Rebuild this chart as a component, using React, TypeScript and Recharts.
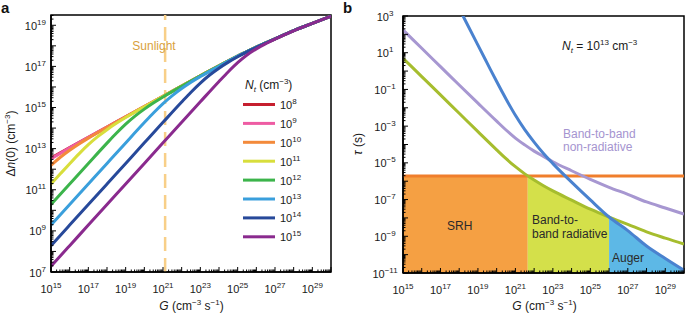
import React from "react";
import {
  ComposedChart,
  Line,
  Area,
  XAxis,
  YAxis,
  ReferenceLine,
  ReferenceArea,
  Legend,
} from "recharts";

const FONT = '"Liberation Sans", Arial, Helvetica, sans-serif';

// ---------- panel a: Δn(0) vs G, one curve per trap density N_t ----------
const ntExponents = [8, 9, 10, 11, 12, 13, 14, 15];
const ntColors = ["#c61f2f", "#ee5ca3", "#f38a3b", "#d8de3c", "#3cb44b", "#3a9fdc", "#27499a", "#8a2a8e"];

const gNt8 = [1e15, 1e16, 1e17, 1e18, 1e19, 1e20, 1e21, 1e22, 1e23, 1e24, 1e25, 3.16e25, 1e26, 3.16e26, 1e27, 3.16e27, 1e28, 1e29, 1e30];
const nNt8 = [3.51e12, 1.12e13, 3.55e13, 1.12e14, 3.55e14, 1.12e15, 3.55e15, 1.12e16, 3.47e16, 1.07e17, 3.16e17, 5.25e17, 8.71e17, 1.38e18, 2.19e18, 3.47e18, 5.5e18, 1.23e19, 2.75e19];

const gNt9 = [1e15, 1e16, 1e17, 1e18, 1e19, 1e20, 1e21, 1e22, 1e23, 1e24, 1e25, 3.16e25, 1e26, 3.16e26, 1e27, 3.16e27, 1e28, 1e29, 1e30];
const nNt9 = [3.24e12, 1.09e13, 3.52e13, 1.12e14, 3.55e14, 1.12e15, 3.55e15, 1.12e16, 3.47e16, 1.07e17, 3.16e17, 5.25e17, 8.71e17, 1.38e18, 2.19e18, 3.47e18, 5.5e18, 1.23e19, 2.75e19];

const gNt10 = [1e15, 3.16e15, 1e16, 3.16e16, 1e17, 1e18, 1e19, 1e20, 1e21, 1e22, 1e23, 1e24, 1e25, 3.16e25, 1e26, 3.16e26, 1e27, 3.16e27, 1e28, 1e29, 1e30];
const nNt10 = [1.55e12, 3.81e12, 8.36e12, 1.7e13, 3.24e13, 1.09e14, 3.52e14, 1.12e15, 3.55e15, 1.12e16, 3.47e16, 1.07e17, 3.16e17, 5.25e17, 8.71e17, 1.38e18, 2.19e18, 3.47e18, 5.5e18, 1.23e19, 2.75e19];

const gNt11 = [1e15, 3.16e15, 1e16, 3.16e16, 1e17, 3.16e17, 1e18, 3.16e18, 1e19, 1e20, 1e21, 1e22, 1e23, 1e24, 1e25, 3.16e25, 1e26, 3.16e26, 1e27, 3.16e27, 1e28, 1e29, 1e30];
const nNt11 = [1.9e11, 5.96e11, 1.85e12, 5.56e12, 1.55e13, 3.81e13, 8.36e13, 1.7e14, 3.24e14, 1.09e15, 3.52e15, 1.12e16, 3.47e16, 1.07e17, 3.16e17, 5.25e17, 8.71e17, 1.38e18, 2.19e18, 3.47e18, 5.5e18, 1.23e19, 2.75e19];

const gNt12 = [1e15, 1e16, 1e17, 1e18, 3.16e18, 1e19, 3.16e19, 1e20, 3.16e20, 1e21, 1e22, 1e23, 1e24, 1e25, 3.16e25, 1e26, 3.16e26, 1e27, 3.16e27, 1e28, 1e29, 1e30];
const nNt12 = [1.91e10, 1.91e11, 1.9e12, 1.85e13, 5.56e13, 1.55e14, 3.81e14, 8.36e14, 1.7e15, 3.24e15, 1.09e16, 3.5e16, 1.07e17, 3.16e17, 5.25e17, 8.71e17, 1.38e18, 2.19e18, 3.47e18, 5.5e18, 1.23e19, 2.75e19];

const gNt13 = [1e15, 1e16, 1e17, 1e18, 1e19, 1e20, 3.16e20, 1e21, 3.16e21, 1e22, 3.16e22, 1e23, 1e24, 1e25, 3.16e25, 1e26, 3.16e26, 1e27, 3.16e27, 1e28, 1e29, 1e30];
const nNt13 = [1.91e9, 1.91e10, 1.91e11, 1.91e12, 1.9e13, 1.85e14, 5.56e14, 1.55e15, 3.81e15, 8.36e15, 1.7e16, 3.2e16, 1.02e17, 3.13e17, 5.2e17, 8.71e17, 1.38e18, 2.19e18, 3.47e18, 5.5e18, 1.23e19, 2.75e19];

const gNt14 = [1e15, 1e16, 1e17, 1e18, 1e19, 1e20, 1e21, 1e22, 3.16e22, 1e23, 3.16e23, 1e24, 3.16e24, 1e25, 3.16e25, 1e26, 3.16e26, 1e27, 3.16e27, 1e28, 1e29, 1e30];
const nNt14 = [1.91e8, 1.91e9, 1.91e10, 1.91e11, 1.91e12, 1.91e13, 1.9e14, 1.85e15, 5.56e15, 1.54e16, 3.8e16, 8.22e16, 1.61e17, 2.94e17, 5.1e17, 8.47e17, 1.35e18, 2.16e18, 3.47e18, 5.5e18, 1.23e19, 2.75e19];

const gNt15 = [1e15, 1e16, 1e17, 1e18, 1e19, 1e20, 1e21, 1e22, 1e23, 1e24, 3.16e24, 1e25, 3.16e25, 1e26, 3.16e26, 1e27, 3.16e27, 1e28, 1e29, 1e30];
const nNt15 = [1.91e7, 1.91e8, 1.91e9, 1.91e10, 1.91e11, 1.91e12, 1.91e13, 1.91e14, 1.9e15, 1.85e16, 5.51e16, 1.51e17, 3.56e17, 7.11e17, 1.26e18, 2.11e18, 3.4e18, 5.37e18, 1.23e19, 2.75e19];

const sunlightG = 1.3e21;

// ---------- panel b: lifetimes for N_t = 1e13 ----------
const gTau = [1e15, 1e16, 1e17, 1e18, 1e19, 1e20, 3.16e20, 1e21, 3.16e21, 1e22, 3.16e22, 1e23, 1e24, 1e25, 1e26, 1e27, 1e28, 1e29, 1e30];
const tauRad = [5.01, 0.501, 5.01e-2, 5.01e-3, 5.01e-4, 5.13e-5, 1.7e-5, 6.17e-6, 2.51e-6, 1.15e-6, 5.62e-7, 2.95e-7, 9.33e-8, 3.02e-8, 1.12e-8, 4.47e-9, 1.74e-9, 7.94e-10, 3.8e-10];
const tauNonRad = [174, 17.4, 1.74, 0.174, 1.78e-2, 1.86e-3, 6.17e-4, 2.24e-4, 9.55e-5, 4.37e-5, 2.24e-5, 1.15e-5, 3.72e-6, 1.26e-6, 4.68e-7, 1.91e-7, 7.41e-8, 3.47e-8, 1.62e-8];

const gAuger = [1e17, 1e18, 1e19, 3.16e19, 1e20, 3.16e20, 1e21, 3.16e21, 1e22, 3.16e22, 1e23, 1e24, 1e25, 1e26, 1e27, 1e28, 1e29, 1e30];
const tauAuger = [2.57e5, 2.57e3, 25.7, 2.63, 0.269, 3.02e-2, 3.89e-3, 6.46e-4, 1.35e-4, 3.24e-5, 9.12e-6, 8.91e-7, 9.55e-8, 1.12e-8, 2.04e-9, 2.95e-10, 6.17e-11, 1.41e-11];

const gSrh = [1e15, 1e30];
const tauSrh = [1.9e-6, 1.9e-6];

// dominant-mechanism regions (top edge of each filled region)
const gSrhRegion = [1e15, 4.57e21];
const tauSrhRegion = [1.9e-6, 1.9e-6];
const gRadRegion = [4.57e21, 1e22, 3.16e22, 1e23, 1e24, 1e25, 1e26];
const tauRadRegion = [1.9e-6, 1.15e-6, 5.62e-7, 2.95e-7, 9.33e-8, 3.02e-8, 1.12e-8];
const gAugerRegion = [1e26, 1e27, 1e28, 1e29, 1e30];
const tauAugerRegion = [1.12e-8, 2.04e-9, 2.95e-10, 6.17e-11, 1.41e-11];

const zipPts = (gs: number[], vs: number[]) => gs.map((g, i) => ({ g, v: vs[i] }));

const panelA = [
  zipPts(gNt8, nNt8),
  zipPts(gNt9, nNt9),
  zipPts(gNt10, nNt10),
  zipPts(gNt11, nNt11),
  zipPts(gNt12, nNt12),
  zipPts(gNt13, nNt13),
  zipPts(gNt14, nNt14),
  zipPts(gNt15, nNt15),
].map((data, i) => ({ exp: ntExponents[i], color: ntColors[i], data }));

// log ticks: every 1..9 x 10^e
const logTicks = (lo: number, hi: number, max: number) => {
  const t: number[] = [];
  for (let e = lo; e <= hi; e++) {
    for (let k = 1; k <= 9; k++) {
      const v = k * Math.pow(10, e);
      if (v <= max * 1.0001) t.push(v);
    }
  }
  return t;
};

const isMajor = (v: number) => {
  const l = Math.log10(v);
  return Math.abs(l - Math.round(l)) < 1e-6;
};

const Pow10 = ({ x, y, exp, anchor }: { x: number; y: number; exp: number; anchor: string }) => (
  <text x={x} y={y} textAnchor={anchor as any} fontSize={11} fill="#1a1a1a" fontFamily={FONT}>
    10
    <tspan dy={-5} fontSize={8}>
      {exp < 0 ? `\u2212${-exp}` : `${exp}`}
    </tspan>
  </text>
);

const XTick = (props: any) => {
  const { x, y, payload } = props;
  const v = payload.value;
  const major = isMajor(v);
  const e = Math.round(Math.log10(v));
  return (
    <g>
      <line x1={x} x2={x} y1={y} y2={y - (major ? 5 : 2.5)} stroke="#000" strokeWidth={1} />
      {major && e % 2 !== 0 && <Pow10 x={x} y={y + 21} exp={e} anchor="middle" />}
    </g>
  );
};

const makeYTick = (dx: number, anchor: string) => (props: any) => {
  const { x, y, payload } = props;
  const v = payload.value;
  const major = isMajor(v);
  const e = Math.round(Math.log10(v));
  return (
    <g>
      <line x1={x} x2={x + (major ? 5 : 2.5)} y1={y} y2={y} stroke="#000" strokeWidth={1} />
      {major && e % 2 !== 0 && <Pow10 x={x - dx} y={y + 4.5} exp={e} anchor={anchor} />}
    </g>
  );
};

const yTickA = makeYTick(5, "end");
const yTickB = makeYTick(18, "middle");

const NtLegend = (props: any) => {
  const items = [...(props.payload || [])].sort((a: any, b: any) => Number(a.value) - Number(b.value));
  return (
    <svg width={100} height={175} style={{ fontFamily: FONT }}>
      <text x={5} y={14} fontSize={12} fill="#1a1a1a">
        <tspan fontStyle="italic">N</tspan>
        <tspan dy={3} fontSize={8} fontStyle="italic">t</tspan>
        <tspan dy={-3}> (cm</tspan>
        <tspan dy={-5} fontSize={8}>{"\u22123"}</tspan>
        <tspan dy={5}>)</tspan>
      </text>
      {items.map((it: any, i: number) => {
        const cy = 29.5 + i * 18.9;
        return (
          <g key={i}>
            <line x1={3} x2={35} y1={cy} y2={cy} stroke={it.color} strokeWidth={3} />
            <text x={40} y={cy + 4.5} fontSize={11} fill="#1a1a1a">
              10<tspan dy={-5} fontSize={8}>{it.value}</tspan>
            </text>
          </g>
        );
      })}
    </svg>
  );
};

const xTicks = logTicks(15, 30, 1e30);
const yTicksA = logTicks(7, 19, 3.17e19);
const yTicksB = logTicks(-11, 3, 1.001e3);

const ChartA = () => (
  <ComposedChart width={340} height={316} margin={{ top: 15, right: 9, bottom: 0, left: 0 }}>
    <ReferenceLine x={sunlightG} stroke="#f8cf88" strokeWidth={2.5} strokeDasharray="14 7" />
    {panelA.map((s) => (
      <Line
        key={s.exp}
        data={s.data}
        dataKey="v"
        name={String(s.exp)}
        type="monotone"
        stroke={s.color}
        strokeWidth={3}
        dot={false}
        isAnimationActive={false}
      />
    ))}
    <XAxis
      dataKey="g"
      type="number"
      scale="log"
      domain={[1e15, 1e30]}
      allowDataOverflow
      ticks={xTicks}
      interval={0}
      tick={XTick}
      tickLine={false}
      tickSize={0}
      tickMargin={0}
      height={44}
      axisLine={{ stroke: "#000", strokeWidth: 1.5 }}
    />
    <YAxis
      type="number"
      scale="log"
      domain={[1e7, 3.162e19]}
      allowDataOverflow
      ticks={yTicksA}
      interval={0}
      tick={yTickA}
      tickLine={false}
      tickSize={0}
      tickMargin={0}
      width={51}
      axisLine={{ stroke: "#000", strokeWidth: 1.5 }}
    />
    <ReferenceArea x1={1e15} x2={1e30} y1={1e7} y2={3.162e19} fill="none" stroke="#000" strokeWidth={1.5} />
    <Legend
      layout="vertical"
      align="center"
      verticalAlign="middle"
      content={NtLegend}
      wrapperStyle={{ position: "absolute", left: 240, top: 75, width: 100, height: 175 }}
    />
  </ComposedChart>
);

const ChartB = () => (
  <ComposedChart width={345} height={316} margin={{ top: 16, right: 1, bottom: 0, left: 0 }}>
    <Area data={zipPts(gSrhRegion, tauSrhRegion)} dataKey="v" type="linear" fill="#f5a043" fillOpacity={1} stroke="none" baseValue={1e-11} isAnimationActive={false} />
    <Area data={zipPts(gRadRegion, tauRadRegion)} dataKey="v" type="monotone" fill="#d4e04a" fillOpacity={1} stroke="none" baseValue={1e-11} isAnimationActive={false} />
    <Area data={zipPts(gAugerRegion, tauAugerRegion)} dataKey="v" type="monotone" fill="#5db8e6" fillOpacity={1} stroke="none" baseValue={1e-11} isAnimationActive={false} />
    <XAxis
      dataKey="g"
      type="number"
      scale="log"
      domain={[1e15, 1e30]}
      allowDataOverflow
      ticks={xTicks}
      interval={0}
      tick={XTick}
      tickLine={false}
      tickSize={0}
      tickMargin={0}
      height={43}
      axisLine={{ stroke: "#000", strokeWidth: 1.5 }}
    />
    <YAxis
      type="number"
      scale="log"
      domain={[1e-11, 1e3]}
      allowDataOverflow
      ticks={yTicksB}
      interval={0}
      tick={yTickB}
      tickLine={false}
      tickSize={0}
      tickMargin={0}
      width={63}
      axisLine={{ stroke: "#000", strokeWidth: 1.5 }}
    />
    <Line data={zipPts(gSrh, tauSrh)} dataKey="v" type="linear" stroke="#f07e2c" strokeWidth={3} dot={false} isAnimationActive={false} />
    <Line data={zipPts(gTau, tauRad)} dataKey="v" type="monotone" stroke="#a6bd2e" strokeWidth={3} dot={false} isAnimationActive={false} />
    <Line data={zipPts(gTau, tauNonRad)} dataKey="v" type="monotone" stroke="#a797d1" strokeWidth={3} dot={false} isAnimationActive={false} />
    <Line data={zipPts(gAuger, tauAuger)} dataKey="v" type="monotone" stroke="#4a82cf" strokeWidth={3} dot={false} isAnimationActive={false} />
    <ReferenceArea x1={1e15} x2={1e30} y1={1e-11} y2={1e3} fill="none" stroke="#000" strokeWidth={1.5} />
  </ComposedChart>
);

const sup = (s: string) => (
  <tspan dy={-5} fontSize={8}>
    {s}
  </tspan>
);

const Annotations = () => (
  <svg width={685} height={316} style={{ position: "absolute", left: 0, top: 0, pointerEvents: "none", fontFamily: FONT }}>
    <text x={1} y={13} fontSize={15} fontWeight="bold" fill="#111">a</text>
    <text x={343} y={13} fontSize={15} fontWeight="bold" fill="#111">b</text>

    <text transform="translate(15,143.5) rotate(-90)" textAnchor="middle" fontSize={12} fill="#1a1a1a">
      Δ<tspan fontStyle="italic">n</tspan>(0) (cm{sup("\u22123")}<tspan dy={5}>)</tspan>
    </text>
    <text x={191.5} y={310} textAnchor="middle" fontSize={12} fill="#1a1a1a">
      <tspan fontStyle="italic">G</tspan> (cm{sup("\u22123")}<tspan dy={5}> s</tspan>{sup("\u22121")}<tspan dy={5}>)</tspan>
    </text>
    <text x={154} y={50} textAnchor="middle" fontSize={12} fill="#d9a13c">Sunlight</text>

    <text transform="translate(362,144) rotate(-90)" textAnchor="middle" fontSize={12} fill="#1a1a1a">
      <tspan fontStyle="italic">τ</tspan> (s)
    </text>
    <text x={544.5} y={310} textAnchor="middle" fontSize={12} fill="#1a1a1a">
      <tspan fontStyle="italic">G</tspan> (cm{sup("\u22123")}<tspan dy={5}> s</tspan>{sup("\u22121")}<tspan dy={5}>)</tspan>
    </text>
    <text x={562} y={50} fontSize={12} fill="#1a1a1a">
      <tspan fontStyle="italic">N</tspan>
      <tspan dy={3} fontSize={8} fontStyle="italic">t</tspan>
      <tspan dy={-3}> = 10</tspan>
      {sup("13")}
      <tspan dy={5}> cm</tspan>
      {sup("\u22123")}
    </text>
    <text x={563} y={137.5} fontSize={12} fill="#a594d0">Band-to-band</text>
    <text x={563} y={150.5} fontSize={12} fill="#a594d0">non-radiative</text>
    <text x={447} y={230} fontSize={12} fill="#2a2a2a">SRH</text>
    <text x={532} y={223.5} fontSize={12} fill="#2a2a2a">Band-to-</text>
    <text x={532} y={237.5} fontSize={12} fill="#2a2a2a">band radiative</text>
    <text x={612} y={262} fontSize={12} fill="#2a2a2a">Auger</text>
  </svg>
);

export default function App() {
  return (
    <div style={{ position: "absolute", left: 0, top: 0, width: 685, height: 316, background: "#fff", fontFamily: FONT }}>
      <div style={{ position: "absolute", left: 0, top: 0 }}>
        <ChartA />
      </div>
      <div style={{ position: "absolute", left: 340, top: 0 }}>
        <ChartB />
      </div>
      <Annotations />
    </div>
  );
}
